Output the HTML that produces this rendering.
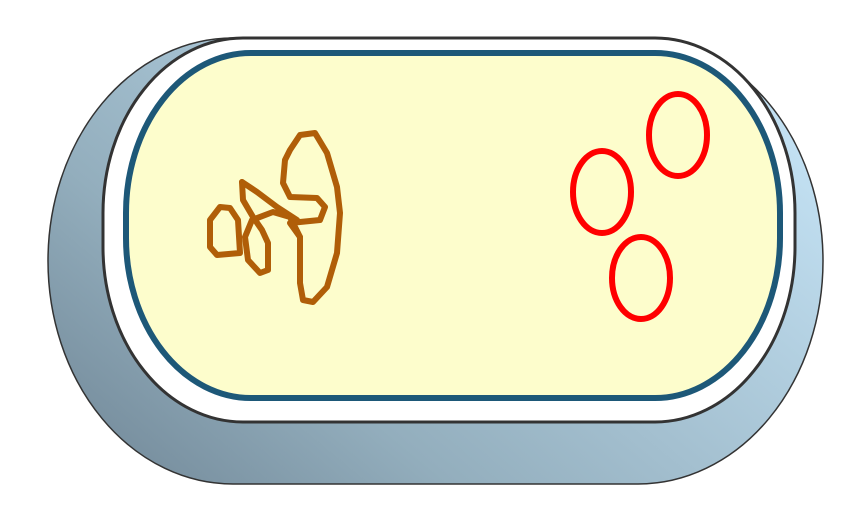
<!DOCTYPE html>
<html><head><meta charset="utf-8"><style>html,body{margin:0;padding:0;background:#fff}svg{display:block}</style></head>
<body>
<svg width="862" height="522" viewBox="0 0 862 522">
<defs>
<linearGradient id="g" x1="0" y1="1" x2="1" y2="0.3">
<stop offset="0" stop-color="#6e8494"/>
<stop offset="0.35" stop-color="#93aebd"/>
<stop offset="1" stop-color="#c2e0f2"/>
</linearGradient>
</defs>
<rect x="48" y="38" width="775" height="446" rx="185" ry="223" fill="url(#g)" stroke="#333" stroke-width="1.5"/>
<rect x="103" y="38" width="692" height="384" rx="140" ry="175" fill="#fff" stroke="#333" stroke-width="3"/>
<rect x="126" y="53" width="654" height="345" rx="125" ry="160" fill="#fdfdcc" stroke="#1d5878" stroke-width="6"/>
<g fill="none" stroke="#b05e08" stroke-width="6" stroke-linejoin="round" stroke-linecap="round">
<path d="M300,135 L315,133 L327,153 L337,187 L340,213 L337,253 L327,287 L313,302 L303,300 L300,283 L300,237 L290,223 L320,220 L325,207 L317,198 L290,197 L283,183 L285,160 L290,150 Z"/>
<path d="M210,220 L220,207 L230,208 L238,220 L240,253 L217,255 L210,247 Z"/>
<path d="M242,182 L243,200 L253,217 L262,230 L268,243 L268,270 L260,273 L248,260 L245,237 L252,220 L273,212 L290,217 L300,237"/>
<path d="M242,182 L257,192 L277,207 L297,220"/>
</g>
<g fill="none" stroke="#f00" stroke-width="6">
<ellipse cx="602" cy="192" rx="29" ry="41"/>
<ellipse cx="678" cy="135" rx="29" ry="41"/>
<ellipse cx="641" cy="278" rx="29" ry="41"/>
</g>
</svg>
</body></html>
